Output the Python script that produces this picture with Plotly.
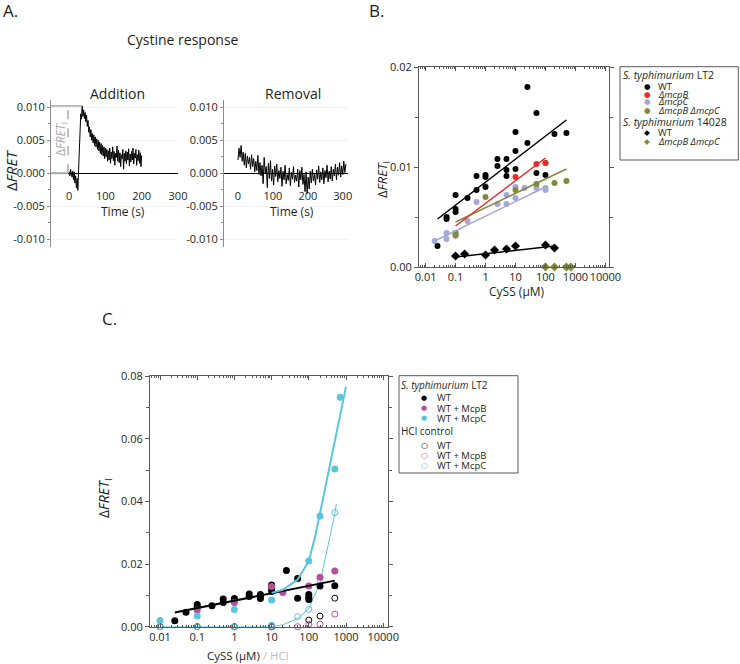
import plotly.graph_objects as go

W, H = 740, 664
FONT = "Open Sans, Noto Sans, sans-serif"
SYM = "DejaVu Sans"
TXT = "#231f20"
AX = "#58595b"
BLACK = "#000000"
RED = "#e8282b"
LAV = "#a4a7d8"
OLIVE = "#808a38"
MAG = "#b4519f"
CYAN = "#5bc5dc"
GRAY = "#a7a9ac"

# ---------------- Panel A : cystine response traces ----------------
add_dt = 2   # s between samples
add_y = [
    0.0002, -0.0004, 0.0006, 0.0001, -0.0006, 0.0003, -0.0010, 0.0002, -0.0015, -0.0004,
    -0.0022, -0.0008, -0.0026, 0.0005, 0.0040, 0.0072, 0.0090, 0.0082, 0.0102, 0.0086,
    0.0096, 0.0083, 0.0092, 0.0078, 0.0088, 0.0071, 0.0080, 0.0062, 0.0070, 0.0055,
    0.0066, 0.0050, 0.0060, 0.0046, 0.0058, 0.0042, 0.0055, 0.0040, 0.0052, 0.0036,
    0.0050, 0.0034, 0.0047, 0.0030, 0.0045, 0.0028, 0.0042, 0.0026, 0.0040, 0.0022,
    0.0038, 0.0025, 0.0036, 0.0018, 0.0034, 0.0020, 0.0038, 0.0015, 0.0032, 0.0022,
    0.0040, 0.0019, 0.0033, 0.0012, 0.0030, 0.0024, 0.0041, 0.0018, 0.0035, 0.0016,
    0.0031, 0.0010, 0.0028, 0.0022, 0.0036, 0.0006, 0.0030, 0.0018, 0.0034, 0.0014,
    0.0032, 0.0020, 0.0037, 0.0011, 0.0029, 0.0017, 0.0033, 0.0020, 0.0038, 0.0014,
    0.0030, 0.0023, 0.0036, 0.0012, 0.0028, 0.0019, 0.0035, 0.0015, 0.0031, 0.0010,
    0.0027,
]
add_t = [add_dt * i for i in range(len(add_y))]

rem_dt = 3
rem_y = [
    0.0020, 0.0038, 0.0024, 0.0042, 0.0018, 0.0032, 0.0012, 0.0030, 0.0008, 0.0026,
    0.0014, 0.0024, 0.0006, 0.0028, 0.0010, 0.0022, 0.0002, 0.0018, 0.0004, 0.0027,
    -0.0002, 0.0016, -0.0004, 0.0012, -0.0016, 0.0024, 0.0000, 0.0010, -0.0022, 0.0015,
    -0.0008, 0.0019, -0.0012, 0.0006, -0.0018, 0.0011, -0.0005, 0.0014, -0.0013, 0.0004,
    -0.0008, 0.0009, -0.0020, 0.0003, -0.0010, 0.0012, -0.0016, -0.0002, -0.0011, 0.0008,
    -0.0019, 0.0001, -0.0009, 0.0010, -0.0014, -0.0003, -0.0012, 0.0006, -0.0021, 0.0004,
    -0.0010, 0.0009, -0.0017, -0.0002, -0.0028, 0.0002, -0.0031, -0.0006, -0.0024, 0.0003,
    -0.0015, 0.0006, -0.0012, -0.0001, -0.0018, 0.0005, -0.0009, 0.0011, -0.0014, 0.0002,
    -0.0010, 0.0008, -0.0016, 0.0004, -0.0007, 0.0012, -0.0013, 0.0003, -0.0009, 0.0010,
    -0.0012, 0.0006, -0.0004, 0.0014, -0.0010, 0.0009, -0.0003, 0.0016, -0.0006, 0.0011,
    -0.0002, 0.0018, 0.0001, 0.0014,
]
rem_t = [rem_dt * i for i in range(len(rem_y))]

a_yticks = [-0.010, -0.005, 0.0, 0.005, 0.010]
a_yticktext = ["-0.010", "-0.005", "0.000", "0.005", "0.010"]
a_xticks = [0, 100, 200, 300]

# ---------------- Panel B : dose response ----------------
b_wt_x = [0.025, 0.05, 0.05, 0.1, 0.1, 0.1, 0.25, 0.5, 0.5, 1, 1, 1, 2.5, 2.5, 5, 5, 5,
          10, 10, 10, 25, 25, 50, 50, 100, 200, 500]
b_wt_y = [0.0021, 0.0048, 0.0050, 0.0072, 0.0058, 0.0055, 0.0069, 0.0077, 0.0091, 0.0092,
          0.0090, 0.0080, 0.0108, 0.0101, 0.0108, 0.0097, 0.0091, 0.0135, 0.0116, 0.0098,
          0.0180, 0.0124, 0.0154, 0.0094, 0.0092, 0.0133, 0.0134]
b_wt_fit_x = [0.025, 500]
b_wt_fit_y = [0.0048, 0.0147]

b_b_x = [10, 50, 100]
b_b_y = [0.0090, 0.0103, 0.0104]
b_b_fit_x = [0.1, 100]
b_b_fit_y = [0.0041, 0.0109]

b_c_x = [0.02, 0.05, 0.05, 0.1, 0.1, 0.25, 0.5, 1, 2.5, 5, 5, 10, 10, 20, 50, 100, 100]
b_c_y = [0.0026, 0.0034, 0.0028, 0.0034, 0.0031, 0.0046, 0.0065, 0.0081, 0.0063, 0.0072,
         0.0063, 0.0080, 0.0069, 0.0079, 0.0079, 0.0079, 0.0077]
b_c_fit_x = [0.02, 100]
b_c_fit_y = [0.0026, 0.0080]

b_bc_x = [0.1, 0.1, 1, 10, 50, 100, 200, 500]
b_bc_y = [0.0034, 0.0032, 0.0070, 0.0077, 0.0083, 0.0104, 0.0084, 0.0086]
b_bc_fit_x = [0.1, 500]
b_bc_fit_y = [0.0045, 0.0098]

b14_wt_x = [0.1, 0.2, 1, 2, 5, 10, 100, 200]
b14_wt_y = [0.0011, 0.0013, 0.0012, 0.0017, 0.0018, 0.0021, 0.0022, 0.0019]
b14_wt_fit_x = [0.1, 200]
b14_wt_fit_y = [0.0010, 0.0021]

b14_bc_x = [100, 200, 500, 700]
b14_bc_y = [0.0, 0.0, 0.0, 0.0]

log_ticks = [0.01, 0.1, 1, 10, 100, 1000, 10000]
log_ticktext = ["0.01", "0.1", "1", "10", "100", "1000", "10000"]
log_minor = [k * 10.0 ** e for e in range(-3, 5) for k in range(2, 10)]

# ---------------- Panel C : receptor overexpression ----------------
c_wt_x = [0.025, 0.05, 0.1, 0.1, 0.25, 0.5, 0.5, 1, 1, 2.5, 2.5, 5, 5, 5, 10, 10, 10,
          25, 50, 50, 100, 100, 100, 200, 500]
c_wt_y = [0.0019, 0.0046, 0.0071, 0.0064, 0.0067, 0.0088, 0.0077, 0.0090, 0.0085, 0.0104,
          0.0096, 0.0103, 0.0097, 0.0090, 0.0133, 0.0122, 0.0112, 0.0179, 0.0154, 0.0091,
          0.0103, 0.0094, 0.0087, 0.0130, 0.0131]
c_wt_fit_x = [0.025, 500]
c_wt_fit_y = [0.0045, 0.0147]

c_b_x = [0.1, 1, 10, 20, 100, 200, 500]
c_b_y = [0.0053, 0.0077, 0.0128, 0.0109, 0.0130, 0.0158, 0.0178]

c_c_x = [0.01, 0.1, 1, 10, 100, 200, 500, 700]
c_c_y = [0.0020, 0.0034, 0.0055, 0.0085, 0.0210, 0.0353, 0.0503, 0.0732]
c_c_fit_x = [10, 20, 50, 100, 150, 200, 300, 500, 700, 1000]
c_c_fit_y = [0.0108, 0.0118, 0.0150, 0.0210, 0.0290, 0.0363, 0.0468, 0.0594, 0.0678, 0.0766]

h_wt_x = [0.01, 0.1, 1, 10, 100, 200, 500]
h_wt_y = [0.0, 0.0, 0.0, 0.0, 0.0021, 0.0034, 0.0091]
h_b_x = [10, 50, 100, 200, 500]
h_b_y = [0.0, 0.0, 0.0008, 0.0008, 0.0040]
h_c_x = [0.01, 0.1, 1, 10, 50, 100, 200, 500]
h_c_y = [0.0, 0.0, 0.0, 0.0005, 0.0032, 0.0055, 0.0146, 0.0364]
h_c_fit_x = [0.01, 10, 20, 50, 100, 200, 500, 550]
h_c_fit_y = [0.0, 0.0, 0.0006, 0.0026, 0.0058, 0.0140, 0.0360, 0.0392]

c_yticks = [0.0, 0.02, 0.04, 0.06, 0.08]
c_yticktext = ["0.00", "0.02", "0.04", "0.06", "0.08"]


def fx(px):
    return px / W


def fy(py):
    return 1 - py / H


fig = go.Figure()


def add_line(x, y, color, width, ax, dash="solid"):
    fig.add_trace(go.Scatter(x=x, y=y, mode="lines", line=dict(color=color, width=width, dash=dash),
                             xaxis="x" + ax, yaxis="y" + ax, showlegend=False, hoverinfo="skip"))


def add_pts(x, y, color, ax, symbol="circle", size=6, open_=False):
    if open_:
        marker = dict(symbol="circle-open", size=size, color=color, line=dict(width=1, color=color))
    else:
        marker = dict(symbol=symbol, size=size, color=color, line=dict(width=0))
    fig.add_trace(go.Scatter(x=x, y=y, mode="markers", marker=marker, cliponaxis=False,
                             xaxis="x" + ax, yaxis="y" + ax, showlegend=False))


# Panel A traces
add_line(add_t, add_y, BLACK, 1, "")
add_line(rem_t, rem_y, BLACK, 1, "2")

# Panel B
add_pts(b_c_x, b_c_y, LAV, "3")
add_pts(b_bc_x, b_bc_y, OLIVE, "3")
add_pts(b_b_x, b_b_y, RED, "3")
add_pts(b_wt_x, b_wt_y, BLACK, "3")
add_pts(b14_wt_x, b14_wt_y, BLACK, "3", symbol="diamond", size=7)
add_pts(b14_bc_x, b14_bc_y, OLIVE, "3", symbol="diamond", size=7)
add_line(b_c_fit_x, b_c_fit_y, LAV, 1.5, "3")
add_line(b_bc_fit_x, b_bc_fit_y, OLIVE, 1.5, "3")
add_line(b_b_fit_x, b_b_fit_y, RED, 1.5, "3")
add_line(b_wt_fit_x, b_wt_fit_y, BLACK, 1.5, "3")
add_line(b14_wt_fit_x, b14_wt_fit_y, BLACK, 1.5, "3")

# Panel C
add_line(h_c_fit_x, h_c_fit_y, CYAN, 1, "4")
add_pts(h_wt_x, h_wt_y, BLACK, "4", size=6, open_=True)
add_pts(h_b_x, h_b_y, MAG, "4", size=6, open_=True)
add_pts(h_c_x, h_c_y, CYAN, "4", size=6, open_=True)
add_pts(c_wt_x, c_wt_y, BLACK, "4", size=7)
add_pts(c_b_x, c_b_y, MAG, "4", size=7)
add_pts(c_c_x, c_c_y, CYAN, "4", size=7)
add_line(c_wt_fit_x, c_wt_fit_y, BLACK, 2, "4")
add_line(c_c_fit_x, c_c_fit_y, CYAN, 2, "4")

tickfont = dict(family=FONT, size=11, color=TXT)

a_y_common = dict(range=[-0.0112, 0.0111], tickmode="array", tickvals=a_yticks, ticktext=a_yticktext,
                  ticks="outside", ticklen=3, tickcolor="#8a8c8e", showline=True, linecolor="#8a8c8e",
                  linewidth=1, showgrid=True, gridcolor="#f2f2f2", gridwidth=1, zeroline=False,
                  tickfont=tickfont, domain=[fy(247), fy(100)],
                  minor=dict(tickmode="array", tickvals=[-0.0075, -0.0025, 0.0025, 0.0075],
                             ticks="outside", ticklen=2, tickcolor="#8a8c8e", showgrid=False))
a_x_common = dict(anchor="free", position=fy(173), tickmode="array", tickvals=a_xticks,
                  ticks="", showline=True, linecolor=BLACK, linewidth=1, showgrid=False,
                  zeroline=False, tickfont=tickfont, tickangle=0, ticklabelstandoff=13)

log_x_common = dict(type="log", tickmode="array", tickvals=log_ticks, ticktext=log_ticktext,
                    ticks="inside", ticklen=4, tickcolor=AX, showline=True, mirror="ticks",
                    linecolor=AX, linewidth=1, showgrid=False, zeroline=False, tickangle=0,
                    tickfont=tickfont,
                    minor=dict(tickmode="array", tickvals=log_minor, ticks="inside", ticklen=2,
                               tickcolor=AX, showgrid=False))

fig.update_layout(
    width=W, height=H, margin=dict(l=0, r=0, t=0, b=0),
    paper_bgcolor="white", plot_bgcolor="white", template="none",
    showlegend=False, font=dict(family=FONT, color=TXT),
    xaxis=dict(domain=[fx(51), fx(178)], range=[-50, 300], **a_x_common),
    yaxis=dict(anchor="x", **a_y_common),
    xaxis2=dict(domain=[fx(224), fx(348)], range=[-40, 315], **a_x_common),
    yaxis2=dict(anchor="x2", **a_y_common),
    xaxis3=dict(domain=[fx(419), fx(609.3)], range=[-2.22, 4.13], anchor="y3", **log_x_common),
    yaxis3=dict(domain=[fy(267), fy(67)], range=[0, 0.02], anchor="x3", tickmode="array",
                tickvals=[0, 0.01, 0.02], ticktext=["0.00", "0.01", "0.02"], ticks="outside",
                ticklen=4, tickcolor=AX, showline=True, mirror="ticks", linecolor=AX, linewidth=1,
                showgrid=False, zeroline=False, tickfont=tickfont,
                minor=dict(tickmode="array", tickvals=[0.005, 0.015], ticks="outside", ticklen=3,
                           tickcolor=AX, showgrid=False)),
    xaxis4=dict(domain=[fx(150), fx(388.3)], range=[-2.269, 4.137], anchor="y4", **log_x_common),
    yaxis4=dict(domain=[fy(626.7), fy(376)], range=[0, 0.08], anchor="x4", tickmode="array",
                tickvals=c_yticks, ticktext=c_yticktext, ticks="outside", ticklen=4, tickcolor=AX,
                showline=True, mirror="ticks", linecolor=AX, linewidth=1, showgrid=False,
                zeroline=False, tickfont=tickfont,
                minor=dict(tickmode="array", tickvals=[0.01, 0.03, 0.05, 0.07], ticks="outside",
                           ticklen=3, tickcolor=AX, showgrid=False)),
)

# ΔFRET_I bracket in panel A (derived from the addition trace)
peak = max(add_y)
peak_t = add_t[add_y.index(peak)]
fig.add_shape(type="line", xref="x", yref="y", x0=-50, x1=peak_t, y0=peak, y1=peak,
              line=dict(color=GRAY, width=1.5))
fig.add_shape(type="line", xref="x", yref="y", x0=-3, x1=-3, y0=0, y1=peak,
              line=dict(color=GRAY, width=1.5, dash="dash"))
fig.add_shape(type="line", xref="x", yref="y", x0=-50, x1=-3, y0=0, y1=0,
              line=dict(color=GRAY, width=2))

annotations = []


def ann(px, py, text, size=11, xanchor="center", color=TXT, angle=0, family=FONT):
    annotations.append(dict(x=fx(px), y=fy(py), xref="paper", yref="paper", text=text,
                            showarrow=False, xanchor=xanchor, yanchor="middle", textangle=angle,
                            borderpad=0, font=dict(family=family, size=size, color=color)))


ann(2, 11, "A.", size=17, xanchor="left")
ann(368, 11, "B.", size=17, xanchor="left")
ann(101, 318, "C.", size=17, xanchor="left")
ann(183, 40, "Cystine response", size=14)
ann(117, 94, "Addition", size=14)
ann(293, 94, "Removal", size=14)
ann(123, 212, "Time (s)", size=12)
ann(292, 212, "Time (s)", size=12)
ann(11, 171, "Δ<i>FRET</i>", size=15, angle=-90)
ann(61, 139, "Δ<i>FRET</i><sub>I</sub>", size=12, angle=-90, color=GRAY)
ann(383, 180, "Δ<i>FRET</i><sub>I</sub>", size=13, angle=-90)
ann(517, 292, "CySS (μM)", size=12)
ann(104, 498, "Δ<i>FRET</i><sub>I</sub>", size=14, angle=-90)
ann(247.5, 655, "CySS (μM) <span style='color:#bcbec0'>/ HCl</span>", size=11.5)

# Legend B
ann(622, 75, "<i>S. typhimurium</i> LT2", size=10.5, xanchor="left")
for sym, col, label, yy in [("●", BLACK, "WT", 86), ("●", RED, "<i>ΔmcpB</i>", 94.3),
                            ("●", LAV, "<i>ΔmcpC</i>", 101.7),
                            ("●", OLIVE, "<i>ΔmcpB ΔmcpC</i>", 110)]:
    ann(647, yy, sym, size=7.5, color=col, family=SYM)
    ann(657, yy, label, size=9.5, xanchor="left")
ann(622, 121.7, "<i>S. typhimurium</i> 14028", size=10.5, xanchor="left")
for sym, col, label, yy in [("◆", BLACK, "WT", 132.7), ("◆", OLIVE, "<i>ΔmcpB ΔmcpC</i>", 141.7)]:
    ann(647, yy, sym, size=7.5, color=col, family=SYM)
    ann(657, yy, label, size=9.5, xanchor="left")

# Legend C
ann(400, 385, "<i>S. typhimurium</i> LT2", size=10, xanchor="left")
for sym, col, label, yy in [("●", BLACK, "WT", 397.7), ("●", MAG, "WT + McpB", 408.3),
                            ("●", CYAN, "WT + McpC", 418.3)]:
    ann(424.3, yy, sym, size=7, color=col, family=SYM)
    ann(436, yy, label, size=9.5, xanchor="left")
ann(400, 430.7, "HCl control", size=10, xanchor="left")
for sym, col, label, yy in [("○", BLACK, "WT", 445), ("○", MAG, "WT + McpB", 455),
                            ("○", CYAN, "WT + McpC", 465)]:
    ann(424.3, yy, sym, size=8, color=col, family=SYM)
    ann(436, yy, label, size=9.5, xanchor="left")

fig.update_layout(annotations=annotations)

fig.add_shape(type="rect", xref="paper", yref="paper", x0=fx(620), x1=fx(738.3), y0=fy(160),
              y1=fy(66.7), line=dict(color=AX, width=1))
fig.add_shape(type="rect", xref="paper", yref="paper", x0=fx(399), x1=fx(518), y0=fy(473),
              y1=fy(375.7), line=dict(color=AX, width=1))

fig.write_html("out.html", config={"displayModeBar": False},
               post_script="document.body.style.margin='0px';document.body.style.overflow='hidden';")
